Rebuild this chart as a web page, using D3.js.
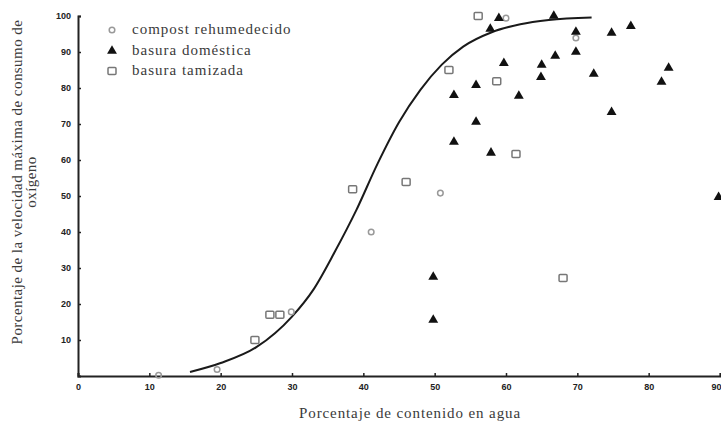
<!DOCTYPE html>
<html>
<head>
<meta charset="utf-8">
<script src="https://cdn.jsdelivr.net/npm/d3@7/dist/d3.min.js"></script>
<style>
  html, body { margin: 0; padding: 0; background: #fff; }
  svg { display: block; }
</style>
</head>
<body>
<svg id="chart" width="721" height="423"></svg>
<script>
// Water content (%) vs. percentage of maximum oxygen uptake rate
const compostX = [11.3, 19.5, 29.9, 41.1, 50.8, 60.0, 69.8];
const compostY = [0.2, 1.8, 17.8, 40.0, 50.8, 99.4, 93.9];

const domesticX = [59.0, 57.8, 66.7, 59.7, 65.0, 66.9, 64.9, 55.8, 52.7, 61.8,
                   69.8, 69.8, 74.8, 77.5, 72.3, 82.8, 81.8, 74.8,
                   55.8, 52.7, 57.9, 49.8, 49.8, 89.8];
const domesticY = [99.4, 96.4, 100.0, 86.9, 86.4, 88.9, 83.0, 80.8, 78.0, 77.8,
                   95.6, 90.0, 95.3, 97.2, 83.9, 85.6, 81.7, 73.3,
                   70.6, 65.0, 62.0, 27.5, 15.6, 49.7];

const sievedX = [56.1, 52.0, 58.7, 61.4, 38.5, 46.0, 68.0, 26.9, 28.3, 24.8];
const sievedY = [100.0, 85.0, 81.9, 61.7, 51.9, 53.9, 27.2, 17.0, 17.0, 10.0];

// Fitted response curve, read point by point
const curveX = [15.7, 20.0, 25.0, 30.0, 33.0, 36.0, 39.0, 42.0, 45.0, 48.0, 51.0, 54.0, 58.0, 62.0, 66.0, 72.0];
const curveY = [1.1, 3.6, 8.0, 16.5, 24.0, 34.5, 46.0, 59.0, 70.5, 79.5, 86.5, 91.5, 95.5, 97.7, 98.9, 99.6];

const xTicks = [0, 10, 20, 30, 40, 50, 60, 70, 80, 90];
const yTicks = [10, 20, 30, 40, 50, 60, 70, 80, 90, 100];

const legendLabels = ["compost rehumedecido", "basura doméstica", "basura tamizada"];
const xTitle = "Porcentaje de contenido en agua";
const yTitleLines = ["Porcentaje de la velocidad máxima de consumo de", "oxígeno"];

const svg = d3.select("#chart");
const x = d3.scaleLinear().domain([0, 90]).range([78, 720]);
const y = d3.scaleLinear().domain([0, 100]).range([376, 16]);

const serif = "'Liberation Serif', 'DejaVu Serif', serif";
const textColor = "#3a3a3a";

// Axes with small inward ticks
const xAxis = svg.append("g").attr("transform", `translate(0,${y(0)})`)
  .call(d3.axisBottom(x).tickValues(xTicks).tickSize(-3).tickPadding(8).tickFormat(d3.format("d")));
const yAxis = svg.append("g").attr("transform", `translate(${x(0)},0)`)
  .call(d3.axisLeft(y).tickValues(yTicks).tickSize(-3).tickPadding(7).tickFormat(d3.format("d")));

[xAxis, yAxis].forEach(g => {
  g.select(".domain").attr("stroke", "#222").attr("stroke-width", 2);
  g.selectAll(".tick line").attr("stroke", "#222").attr("stroke-width", 1.5);
  g.selectAll(".tick text")
    .attr("fill", "#222")
    .style("font-family", "'Liberation Sans', Arial, sans-serif")
    .style("font-size", "9px")
    .style("font-weight", "bold");
});
// keep the last x label inside the page edge
xAxis.selectAll(".tick text").filter(d => d === 90).attr("text-anchor", "end").attr("dx", "1");

// Curve
const line = d3.line().x(d => x(d[0])).y(d => y(d[1])).curve(d3.curveMonotoneX);
svg.append("path")
  .datum(d3.zip(curveX, curveY))
  .attr("d", line)
  .attr("fill", "none")
  .attr("stroke", "#1a1a1a")
  .attr("stroke-width", 2);

// Marker drawers
const triPath = d3.symbol().type(d3.symbolTriangle).size(42)();

function drawCircles(g, xs, ys) {
  g.selectAll(null).data(d3.zip(xs, ys)).join("circle")
    .attr("cx", d => x(d[0])).attr("cy", d => y(d[1])).attr("r", 2.8)
    .attr("fill", "none").attr("stroke", "#999").attr("stroke-width", 1.5);
}
function drawSquares(g, xs, ys) {
  g.selectAll(null).data(d3.zip(xs, ys)).join("rect")
    .attr("x", d => x(d[0]) - 4).attr("y", d => y(d[1]) - 3.5)
    .attr("width", 8).attr("height", 7).attr("rx", 1)
    .attr("fill", "none").attr("stroke", "#777").attr("stroke-width", 1.5);
}
function drawTriangles(g, xs, ys) {
  g.selectAll(null).data(d3.zip(xs, ys)).join("path")
    .attr("d", triPath)
    .attr("transform", d => `translate(${x(d[0])},${y(d[1])})`)
    .attr("fill", "#111");
}

drawSquares(svg.append("g"), sievedX, sievedY);
drawCircles(svg.append("g"), compostX, compostY);
drawTriangles(svg.append("g"), domesticX, domesticY);

// Legend
const legend = svg.append("g");
const legendY = [30, 51, 71];
legend.append("circle").attr("cx", 112).attr("cy", legendY[0]).attr("r", 2.8)
  .attr("fill", "none").attr("stroke", "#999").attr("stroke-width", 1.5);
legend.append("path").attr("d", triPath).attr("transform", `translate(112,${legendY[1]})`).attr("fill", "#111");
legend.append("rect").attr("x", 108).attr("y", legendY[2] - 3.5).attr("width", 8).attr("height", 7).attr("rx", 1)
  .attr("fill", "none").attr("stroke", "#777").attr("stroke-width", 1.5);
legend.selectAll("text").data(legendLabels).join("text")
  .attr("x", 132).attr("y", (d, i) => legendY[i] + 4)
  .attr("fill", textColor)
  .style("font-family", serif).style("font-size", "15px").style("letter-spacing", "1px")
  .text(d => d);

// Axis titles
svg.append("text")
  .attr("x", 410).attr("y", 418)
  .attr("text-anchor", "middle")
  .attr("fill", textColor)
  .style("font-family", serif).style("font-size", "15px").style("letter-spacing", "0.9px")
  .text(xTitle);

const yt = svg.append("text")
  .attr("transform", "translate(0,182) rotate(-90)")
  .attr("text-anchor", "middle")
  .attr("fill", textColor)
  .style("font-family", serif).style("font-size", "15px").style("letter-spacing", "0.45px");
yt.selectAll("tspan").data(yTitleLines).join("tspan")
  .attr("x", 0).attr("y", (d, i) => 22 + i * 14)
  .text(d => d);
</script>
</body>
</html>
